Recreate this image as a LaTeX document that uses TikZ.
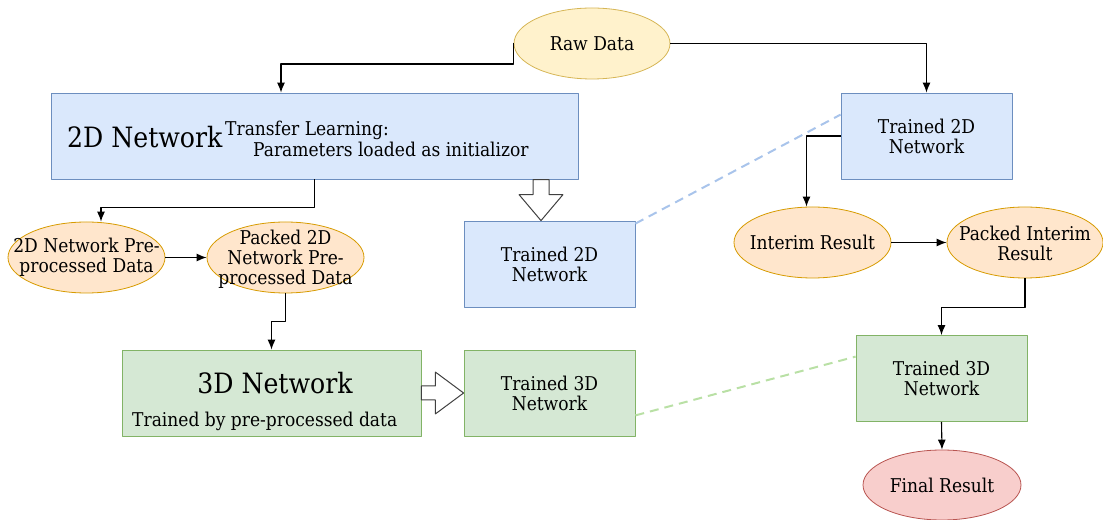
\documentclass[tikz,border=0pt]{standalone}
\usepackage{fontspec}
\setmainfont{DejaVu Serif Condensed}
\usetikzlibrary{shapes.geometric,arrows.meta}
\definecolor{blueFill}{HTML}{DAE8FC}
\definecolor{blueLine}{HTML}{6C8EBF}
\definecolor{blueDash}{HTML}{A9C4EB}
\definecolor{greenFill}{HTML}{D5E8D4}
\definecolor{greenLine}{HTML}{82B366}
\definecolor{greenDash}{HTML}{B9E0A5}
\definecolor{yellowFill}{HTML}{FFF2CC}
\definecolor{yellowLine}{HTML}{D6B656}
\definecolor{orangeFill}{HTML}{FFE6CC}
\definecolor{orangeLine}{HTML}{D79B00}
\definecolor{redFill}{HTML}{F8CECC}
\definecolor{redLine}{HTML}{B85450}
\begin{document}
\begin{tikzpicture}[>={Latex[length=10bp,width=8bp]},line join=bevel,
  font=\fontsize{19bp}{20bp}\selectfont,
  box/.style={draw,rectangle,line width=0.8bp,minimum width=171bp,minimum height=86bp,align=center},
  box2d/.style={box,fill=blueFill,draw=blueLine},
  box3d/.style={box,fill=greenFill,draw=greenLine},
  oval/.style={draw,ellipse,line width=0.8bp,minimum width=157bp,minimum height=71bp,inner sep=0pt},
  link/.style={black,->,line width=1.1bp},
  hollow/.style={draw=black!75,fill=white,line width=1bp},
  faint/.style={line width=2bp,dash pattern=on 9bp off 6bp},
  big/.style={font=\fontsize{28bp}{30bp}\selectfont},
]
\useasboundingbox (0bp,0bp) rectangle (1103bp,520bp);
%%
\node (raw_data) at (592.0bp,476.5bp) [oval,fill=yellowFill,draw=yellowLine,minimum width=156bp] {Raw Data};
\node (net_2d) at (314.5bp,384.0bp) [box2d,minimum width=527bp] {};
  \node (net_2d_name) at (67.0bp,383.0bp) [anchor=west,big,inner sep=0pt] {2D Network};
  \node (net_2d_note_a) at (225.0bp,390.0bp) [anchor=west,inner sep=0pt] {Transfer Learning:};
  \node (net_2d_note_b) at (253.0bp,371.0bp) [anchor=west,inner sep=0pt] {Parameters loaded as initializor};
\node (trained_2d_a) at (549.5bp,256.0bp) [box2d] {Trained 2D\\Network};
\node (trained_2d_b) at (926.5bp,384.0bp) [box2d] {Trained 2D\\Network};
\node (pre_2d) at (86.5bp,262.5bp) [oval,fill=orangeFill,draw=orangeLine,
  label={[align=center]center:2D Network Pre-\\processed Data}] {};
\node (packed_2d) at (285.5bp,262.5bp) [oval,fill=orangeFill,draw=orangeLine,
  label={[align=center,yshift=-2bp]center:Packed 2D\\Network Pre-\\processed Data}] {};
\node (interim) at (812.5bp,277.5bp) [oval,fill=orangeFill,draw=orangeLine,
  label={center:Interim Result}] {};
\node (packed_interim) at (1025.0bp,277.5bp) [oval,fill=orangeFill,draw=orangeLine,minimum width=156bp,
  label={[align=center,yshift=-1bp]center:Packed Interim\\Result}] {};
\node (net_3d) at (271.5bp,127.0bp) [box3d,minimum width=299bp] {};
  \node (net_3d_name) at (275.0bp,137.0bp) [big,inner sep=0pt] {3D Network};
  \node (net_3d_note) at (132.0bp,99.0bp) [anchor=west,inner sep=0pt] {Trained by pre-processed data};
\node (trained_3d_a) at (549.5bp,127.0bp) [box3d] {Trained 3D\\Network};
\node (trained_3d_b) at (941.5bp,141.5bp) [box3d] {Trained 3D\\Network};
\node (final) at (942.0bp,35.0bp) [oval,fill=redFill,draw=redLine,minimum width=158bp,minimum height=70bp] {Final Result};
%
\draw [link] (raw_data.west) -- ++(0,-20.5bp) -| ([xshift=-33.5bp]net_2d.north);
\draw [link] (raw_data.east) -| (trained_2d_b.north);
\draw [link] (net_2d.south) -- ++(0,-28bp) -| ([xshift=14.5bp]pre_2d.north);
\draw [link] (pre_2d.east) -- (packed_2d.west);
\draw [link] (packed_2d.south) -- ++(0,-28.5bp) -| (net_3d.north);
\draw [link] (trained_2d_b.west) -| ([xshift=-6bp]interim.north);
\draw [link] (interim.east) -- (packed_interim.west);
\draw [link] (packed_interim.south) -- ++(0,-29bp) -| (trained_3d_b.north);
\draw [link] (trained_3d_b.south) -- (final.north);
%
\draw [hollow] ([xshift=-8.5bp]trained_2d_a.north) -- ++(22bp,26bp) -- ++(-14bp,0) -- ++(0,15bp)
  -- ++(-16bp,0) -- ++(0,-15bp) -- ++(-14bp,0) -- cycle;
\draw [hollow] (trained_3d_a.west) -- ++(-28.3bp,21bp) -- ++(0,-14bp) -- ++(-14bp,0) -- ++(0,-14bp)
  -- ++(14bp,0) -- ++(0,-14bp) -- cycle;
%
\draw [faint,draw=blueDash] ([yshift=-3bp]trained_2d_a.north east) -- ([yshift=-22bp]trained_2d_b.north west);
\draw [faint,draw=greenDash] ([yshift=21bp]trained_3d_a.south east) -- ([yshift=-21.5bp]trained_3d_b.north west);
%
\end{tikzpicture}
\end{document}
